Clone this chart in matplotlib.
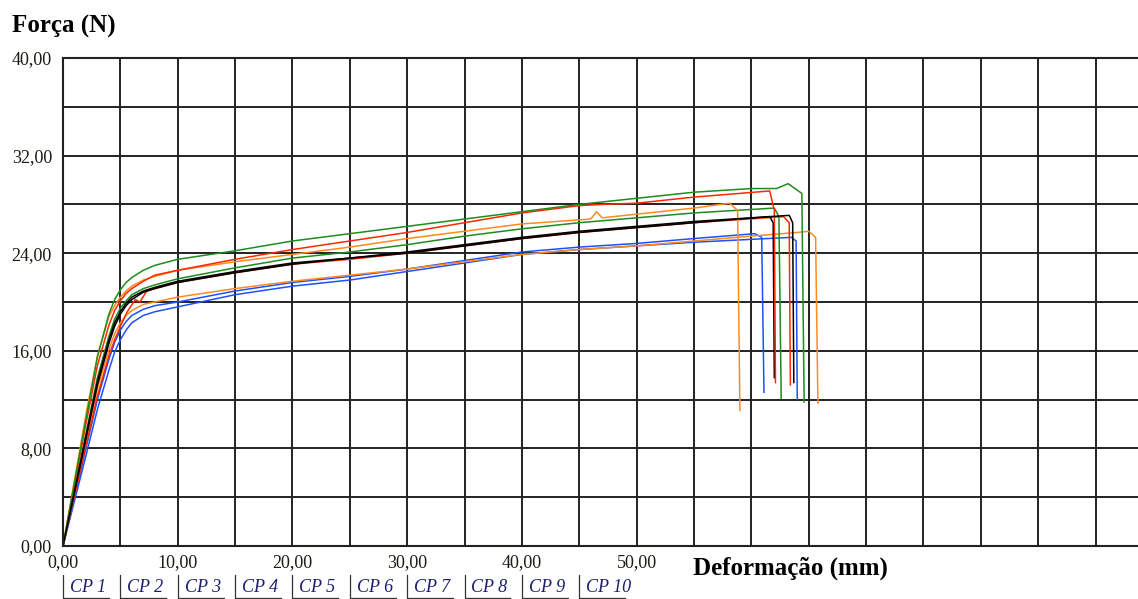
import numpy as np
import matplotlib.pyplot as plt
import matplotlib.transforms as mtransforms

plt.rcParams['font.family'] = ['Liberation Serif', 'DejaVu Serif']

# curvas força x deformação (10 corpos de prova)
x_g1 = [0, 2, 3, 4, 4.5, 5, 5.5, 6, 7, 8, 10, 15, 20, 25, 30, 35, 40, 45, 50, 55, 60, 62.2, 63.2, 64.4, 64.6]
y_g1 = [0, 10.4, 15.5, 19.0, 20.2, 21.0, 21.6, 22.0, 22.6, 23.0, 23.5, 24.2, 25.0, 25.6, 26.2, 26.8, 27.4, 28.0, 28.5, 29.0, 29.3, 29.3, 29.7, 28.9, 11.8]

x_r1 = [0, 2, 3, 4, 4.5, 5, 5.5, 6, 7, 8, 10, 15, 20, 25, 30, 35, 40, 45, 47, 50, 55, 61.6, 62.0, 62.1]
y_r1 = [0, 10.0, 14.8, 18.1, 19.3, 20.1, 20.7, 21.1, 21.7, 22.2, 22.6, 23.5, 24.3, 25.0, 25.7, 26.5, 27.3, 27.9, 28.0, 28.1, 28.6, 29.1, 27.5, 13.4]

x_o1 = [0, 2, 3, 4, 4.5, 5, 5.5, 6, 7, 8, 10, 15, 20, 25, 30, 35, 40, 46, 46.5, 47, 50, 55, 58.1, 58.8, 59.0]
y_o1 = [0, 10.8, 15.6, 18.8, 19.7, 20.4, 20.9, 21.3, 21.8, 22.1, 22.6, 23.3, 23.9, 24.5, 25.2, 25.8, 26.4, 26.8, 27.4, 26.9, 27.2, 27.7, 28.1, 27.5, 11.1]

x_g2 = [0, 2, 3, 4, 4.5, 5, 5.5, 6, 7, 8, 10, 15, 20, 25, 30, 35, 40, 45, 50, 55, 62.0, 62.4, 62.6]
y_g2 = [0, 9.2, 13.8, 17.2, 18.6, 19.5, 20.1, 20.6, 21.1, 21.4, 21.9, 22.8, 23.6, 24.1, 24.7, 25.4, 26.0, 26.5, 26.9, 27.3, 27.7, 27.0, 12.1]

x_k1 = [0, 2, 3, 4, 4.5, 5, 5.5, 6, 7, 8, 10, 15, 20, 25, 30, 35, 40, 45, 50, 55, 63.3, 63.6, 63.7]
y_k1 = [0, 9.0, 13.5, 16.9, 18.3, 19.2, 19.9, 20.4, 20.9, 21.2, 21.7, 22.5, 23.2, 23.6, 24.1, 24.7, 25.3, 25.8, 26.2, 26.6, 27.1, 26.5, 13.4]

x_k2 = [0, 2, 3, 4, 4.5, 5, 5.5, 6, 7, 8, 10, 15, 20, 25, 30, 35, 40, 45, 50, 55, 61.6, 61.9, 62.0]
y_k2 = [0, 8.8, 13.2, 16.6, 18.0, 19.0, 19.7, 20.2, 20.8, 21.1, 21.6, 22.4, 23.1, 23.6, 24.0, 24.6, 25.2, 25.7, 26.1, 26.5, 27.0, 26.5, 13.8]

x_r2 = [0, 2, 3, 4, 4.5, 5, 5.6, 6.3, 6.7, 7.3, 8, 10, 15, 20, 25, 30, 35, 40, 45, 50, 55, 62.8, 63.3, 63.4]
y_r2 = [0, 8.2, 12.3, 15.6, 16.9, 18.0, 19.2, 20.2, 20.0, 20.9, 21.1, 21.6, 22.4, 23.1, 23.5, 24.0, 24.6, 25.2, 25.7, 26.1, 26.5, 27.0, 26.5, 13.2]

x_o2 = [0, 2, 3, 4, 4.5, 5, 5.5, 6, 7, 8, 10, 15, 20, 25, 30, 35, 40, 45, 50, 55, 60, 64.0, 65.0, 65.6, 65.8]
y_o2 = [0, 8.6, 12.9, 16.1, 17.4, 18.3, 18.9, 19.3, 19.8, 20.0, 20.4, 21.1, 21.7, 22.2, 22.7, 23.3, 23.9, 24.3, 24.6, 25.0, 25.4, 25.7, 25.8, 25.3, 11.7]

x_b1 = [0, 2, 3, 4, 4.5, 5, 5.5, 6, 7, 8, 10, 15, 20, 25, 30, 35, 40, 45, 50, 55, 60.3, 60.9, 61.1]
y_b1 = [0, 8.0, 12.0, 15.3, 16.7, 17.7, 18.4, 18.9, 19.4, 19.7, 20.0, 20.9, 21.6, 22.1, 22.7, 23.4, 24.1, 24.5, 24.8, 25.2, 25.6, 25.3, 12.6]

x_b2 = [0, 2, 3, 4, 4.5, 5, 5.5, 6, 7, 8, 10, 15, 20, 25, 30, 35, 40, 45, 50, 55, 63.5, 63.9, 64.0]
y_b2 = [0, 7.4, 11.2, 14.4, 15.9, 16.9, 17.7, 18.3, 18.9, 19.2, 19.6, 20.6, 21.3, 21.8, 22.5, 23.2, 23.9, 24.3, 24.6, 24.9, 25.3, 25.0, 12.0]

legenda = ['CP 1', 'CP 2', 'CP 3', 'CP 4', 'CP 5', 'CP 6', 'CP 7', 'CP 8', 'CP 9', 'CP 10']
yticks = [0, 8, 16, 24, 32, 40]
xticks_lab = [0, 10, 20, 30, 40, 50]

verde = '#1e8c1e'
vermelho = '#ff2800'
laranja = '#ff8a1e'
azul = '#1e50ff'
preto = '#000000'

curvas = [
    (x_b1, y_b1, azul), (x_b2, y_b2, azul),
    (x_o2, y_o2, laranja), (x_r2, y_r2, vermelho),
    (x_k2, y_k2, preto), (x_g2, y_g2, verde),
    (x_o1, y_o1, laranja), (x_r1, y_r1, vermelho),
    (x_g1, y_g1, verde), (x_k1, y_k1, preto),
]

fig = plt.figure(figsize=(11.38, 5.99), dpi=100)
ax = fig.add_axes([63/1138, 1 - 546/599, 1 - 63/1138, (546 - 58)/599])

for xs, ys, c in curvas:
    ax.plot(xs, ys, color=c, lw=1.1)

ax.set_xlim(0, 93.7)
ax.set_ylim(0, 40)

ax.set_xticks(np.arange(0, 95, 5))
ax.set_xticklabels([('%d,00' % v) if v in xticks_lab else '' for v in np.arange(0, 95, 5)],
                   fontsize=13, color='#1e1a14')
ax.set_yticks(np.arange(0, 41, 4))
ax.set_yticklabels([('%d,00' % v) if v in yticks else '' for v in np.arange(0, 41, 4)],
                   fontsize=13, color='#1e1a14')
ax.tick_params(length=0, pad=8)
ax.tick_params(axis='x', pad=6)

ax.grid(True, color='#222222', lw=1.4)
ax.set_axisbelow(True)
for s in ['left', 'bottom', 'top']:
    ax.spines[s].set_color('#222222')
    ax.spines[s].set_linewidth(1.5)
ax.spines['right'].set_visible(False)

fig.text(12/1138, 1 - 26/599, 'Força (N)', fontsize=18, fontweight='bold', va='center', ha='left')
fig.text(693/1138, 1 - 568/599, 'Deformação (mm)', fontsize=18, fontweight='bold', va='center', ha='left')

trans = mtransforms.blended_transform_factory(ax.transData, fig.transFigure)
for i, lab in enumerate(legenda):
    x0 = 5 * i
    ax.plot([x0, x0, x0 + 4.0], [1 - 575/599, 1 - 598/599, 1 - 598/599], transform=trans,
            color='#333333', lw=0.9, clip_on=False)
    ax.text(x0 + 0.6, 1 - 588/599, lab, transform=trans, fontsize=13, style='italic',
            color='#1c1c6e', va='center', ha='left')

fig.savefig('out.png', dpi=100)
